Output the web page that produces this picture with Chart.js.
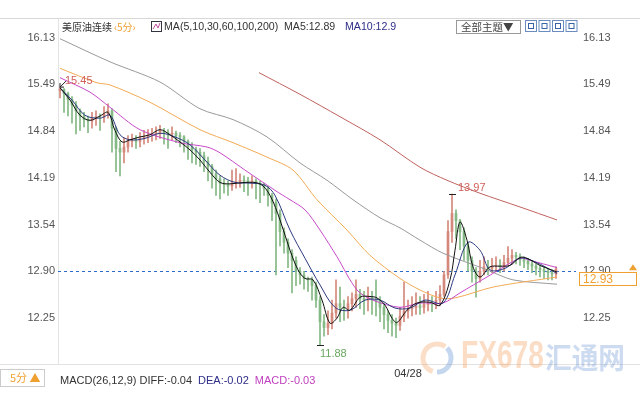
<!DOCTYPE html>
<html>
<head>
<meta charset="utf-8">
<script src="https://cdn.jsdelivr.net/npm/chart.js@4.4.0/dist/chart.umd.min.js"></script>
<style>
html, body { margin: 0; padding: 0; background: #fff; }
#wrap { position: relative; width: 640px; height: 400px; }
</style>
</head>
<body>
<div id="wrap"><canvas id="chart_k"></canvas></div>
<script>
//Price axis tick labels (both sides)
const yTickLabels = ['16.13', '15.49', '14.84', '14.19', '13.54', '12.90', '12.25'];

//5 minute candles, oldest first
const opens = [15.40, 15.42, 15.36, 15.28, 15.20, 15.12, 15.05, 15.00, 14.98, 15.02,
    15.04, 15.03, 15.08, 15.12, 14.88, 14.60, 14.55, 14.62, 14.70, 14.72,
    14.70, 14.74, 14.76, 14.78, 14.80, 14.82, 14.84, 14.82, 14.80, 14.81,
    14.78, 14.76, 14.70, 14.62, 14.58, 14.55, 14.50, 14.42, 14.35, 14.25,
    14.18, 14.12, 14.10, 14.08, 14.12, 14.14, 14.16, 14.15, 14.14, 14.15,
    14.12, 14.10, 14.05, 13.95, 13.85, 13.70, 13.45, 13.30, 13.15, 13.05,
    12.90, 12.85, 12.80, 12.78, 12.70, 12.50, 12.20, 12.12, 12.18, 12.32,
    12.45, 12.40, 12.38, 12.45, 12.52, 12.58, 12.52, 12.50, 12.55, 12.50,
    12.48, 12.40, 12.30, 12.22, 12.18, 12.15, 12.28, 12.35, 12.38, 12.40,
    12.42, 12.40, 12.44, 12.45, 12.44, 12.50, 12.58, 12.85, 13.45, 13.70,
    13.60, 13.45, 13.25, 13.05, 12.90, 12.80, 12.90, 12.96, 12.94, 12.97,
    12.98, 12.96, 13.02, 13.08, 13.12, 13.10, 13.06, 13.04, 13.00, 12.97,
    12.94, 12.92, 12.90, 12.88, 12.86];
const closes = [15.42, 15.36, 15.28, 15.20, 15.12, 15.05, 15.00, 14.98, 15.02, 15.04,
    15.03, 15.08, 15.12, 14.88, 14.60, 14.55, 14.62, 14.70, 14.72, 14.70,
    14.74, 14.76, 14.78, 14.80, 14.82, 14.84, 14.82, 14.80, 14.81, 14.78,
    14.76, 14.70, 14.62, 14.58, 14.55, 14.50, 14.42, 14.35, 14.25, 14.18,
    14.12, 14.10, 14.08, 14.12, 14.14, 14.16, 14.15, 14.14, 14.15, 14.12,
    14.10, 14.05, 13.95, 13.85, 13.70, 13.45, 13.30, 13.15, 13.05, 12.90,
    12.85, 12.80, 12.78, 12.70, 12.50, 12.20, 12.12, 12.18, 12.32, 12.45,
    12.40, 12.38, 12.45, 12.52, 12.58, 12.52, 12.50, 12.55, 12.50, 12.48,
    12.40, 12.30, 12.22, 12.18, 12.15, 12.28, 12.35, 12.38, 12.40, 12.42,
    12.40, 12.44, 12.45, 12.44, 12.50, 12.58, 12.85, 13.45, 13.70, 13.60,
    13.45, 13.25, 13.05, 12.90, 12.80, 12.90, 12.96, 12.94, 12.97, 12.98,
    12.96, 13.02, 13.08, 13.12, 13.10, 13.06, 13.04, 13.00, 12.97, 12.94,
    12.92, 12.90, 12.88, 12.86, 12.93];
const highs = [15.45, 15.43, 15.38, 15.32, 15.25, 15.15, 15.10, 15.05, 15.10, 15.12,
    15.08, 15.18, 15.22, 15.15, 14.90, 14.70, 14.75, 14.78, 14.80, 14.78,
    14.82, 14.85, 14.86, 14.88, 14.90, 14.92, 14.88, 14.86, 14.90, 14.84,
    14.82, 14.78, 14.72, 14.68, 14.62, 14.60, 14.55, 14.48, 14.38, 14.30,
    14.22, 14.18, 14.15, 14.30, 14.32, 14.25, 14.22, 14.20, 14.22, 14.18,
    14.15, 14.12, 14.08, 13.98, 13.90, 13.75, 13.50, 13.35, 13.20, 13.10,
    12.95, 12.90, 12.82, 12.82, 12.75, 12.55, 12.30, 12.35, 12.50, 12.78,
    12.68, 12.50, 12.55, 12.60, 12.78, 12.65, 12.62, 12.68, 12.62, 12.78,
    12.55, 12.45, 12.35, 12.30, 12.25, 12.40, 12.75, 12.50, 12.55, 12.60,
    12.55, 12.58, 12.62, 12.55, 12.62, 12.70, 12.90, 13.60, 13.97, 13.75,
    13.62, 13.50, 13.30, 13.10, 12.95, 13.05, 13.10, 13.05, 13.08, 13.10,
    13.06, 13.12, 13.24, 13.20, 13.16, 13.14, 13.10, 13.08, 13.04, 13.00,
    12.98, 12.96, 12.94, 12.92, 12.96];
const lows = [15.30, 15.10, 15.05, 14.95, 14.80, 14.85, 14.90, 14.82, 14.88, 14.92,
    14.85, 14.96, 15.02, 14.55, 14.28, 14.22, 14.40, 14.55, 14.62, 14.60,
    14.62, 14.66, 14.68, 14.70, 14.72, 14.74, 14.66, 14.60, 14.72, 14.68,
    14.62, 14.55, 14.45, 14.40, 14.38, 14.35, 14.28, 14.15, 14.05, 13.95,
    13.90, 13.98, 13.95, 14.02, 14.05, 14.06, 14.00, 13.95, 14.05, 13.90,
    13.85, 13.95, 13.80, 13.60, 12.85, 13.25, 13.15, 12.95, 12.60, 12.70,
    12.72, 12.65, 12.62, 12.50, 12.40, 11.88, 12.00, 12.02, 12.10, 12.25,
    12.20, 12.22, 12.25, 12.35, 12.40, 12.38, 12.30, 12.35, 12.30, 12.28,
    12.20, 12.10, 12.05, 12.00, 11.98, 12.08, 12.20, 12.25, 12.28, 12.30,
    12.30, 12.32, 12.35, 12.34, 12.38, 12.42, 12.55, 12.80, 13.30, 13.35,
    13.20, 13.05, 12.90, 12.75, 12.54, 12.75, 12.85, 12.85, 12.88, 12.90,
    12.88, 12.90, 12.98, 13.00, 13.00, 12.98, 12.95, 12.92, 12.88, 12.85,
    12.82, 12.80, 12.78, 12.78, 12.80];

//Moving averages as [candle index, value]
const ma5 = [[0, 15.44], [2.5, 15.27], [5, 15.06], [7.5, 14.99], [10, 15.05], [12, 15.10],
    [13.75, 14.85], [15.5, 14.69], [17.5, 14.72], [20, 14.76], [22.5, 14.79], [25, 14.86],
    [27.5, 14.79], [30, 14.69], [32.5, 14.58], [35, 14.44], [37.5, 14.27], [40, 14.13],
    [42.5, 14.11], [46.25, 14.13], [50, 14.11], [52.5, 13.95], [55, 13.61], [57.5, 13.19],
    [59.5, 12.92], [61.25, 12.80], [63.25, 12.78], [65.5, 12.50], [67.5, 12.18], [69.25, 12.25],
    [70.75, 12.40], [72.5, 12.36], [75, 12.54], [77.5, 12.55], [79.25, 12.53], [81.25, 12.43],
    [83, 12.25], [84.25, 12.19], [86.75, 12.36], [89.25, 12.46], [92.5, 12.47], [95, 12.43],
    [97.5, 12.78], [98.75, 13.19], [100, 13.58], [101.75, 13.33], [103.25, 12.96], [105, 12.82],
    [107.5, 12.96], [110, 12.97], [112.5, 12.98], [115, 13.09], [116.75, 13.08], [120, 12.98],
    [124.25, 12.89]];
const ma10 = [[0, 15.44], [3, 15.27], [6.25, 15.06], [10, 15.02], [12.5, 15.06], [15, 14.79],
    [17.5, 14.72], [21.25, 14.74], [25, 14.81], [28.75, 14.76], [32.5, 14.65], [36.25, 14.44],
    [40, 14.23], [43.75, 14.13], [47.5, 14.12], [51.25, 14.09], [53.75, 13.95], [57.5, 13.47],
    [61.25, 13.08], [65, 12.71], [68.75, 12.40], [72.5, 12.36], [76.25, 12.50], [80, 12.50],
    [83.75, 12.39], [87.5, 12.39], [91.25, 12.50], [95.75, 12.46], [98.75, 12.85], [102, 13.30],
    [105, 13.19], [107.5, 12.92], [111.25, 12.94], [115, 13.08], [118.75, 13.03], [124.25, 12.87]];
const ma30 = [[0, 15.58], [7.5, 15.38], [12.5, 15.17], [20, 14.86], [30, 14.68], [36.75, 14.62],
    [40, 14.54], [46.25, 14.30], [53.75, 14.02], [57.5, 13.89], [61.25, 13.75], [65, 13.47],
    [69.25, 13.10], [74.25, 12.64], [78.25, 12.50], [85, 12.40], [90, 12.46], [95.75, 12.46],
    [100, 12.60], [106.75, 12.82], [115, 13.08], [117.5, 13.05], [124.25, 12.95]];
const ma60 = [[0, 15.71], [9.25, 15.51], [12.5, 15.48], [22.5, 15.24], [35, 14.86], [43.25, 14.68],
    [51.75, 14.48], [58.25, 14.30], [64.25, 13.89], [71.75, 13.47], [77.5, 13.12], [85, 12.80],
    [90, 12.64], [95, 12.53], [98.75, 12.53], [108.25, 12.68], [124.25, 12.82]];
const ma100 = [[0, 16.12], [12.5, 15.80], [25, 15.52], [35, 15.15], [43.25, 15.00], [51.75, 14.76],
    [60, 14.40], [66.75, 14.16], [73.25, 13.89], [80, 13.64], [85, 13.50], [90, 13.33],
    [95.75, 13.15], [106.75, 12.92], [113.25, 12.78], [124.25, 12.72]];
const ma200 = [[49.75, 15.65], [60, 15.35], [70, 15.04], [80, 14.72], [90, 14.34], [96.75, 14.16],
    [105, 13.98], [115, 13.79], [124.25, 13.61]];

//Extremes marked on the chart, current price, date tick
const highMark = { index: 0, value: 15.45 };
const peakMark = { index: 98, value: 13.97 };
const lowMark = { index: 65, value: 11.88 };
const lastPrice = '12.93';
const priceLineValue = 12.90;
const dateTicks = [{ index: 87, label: '04/28' }];

const upColor = '#d4887c';
const downColor = '#84b884';
const candleColors = closes.map((c, i) => (c >= opens[i] ? upColor : downColor));

const toXY = (pairs) => pairs.map(p => ({ x: p[0], y: p[1] }));
const maLine = (label, pairs, color, tension) => ({
    type: 'line',
    label: label,
    data: toXY(pairs),
    borderColor: color,
    borderWidth: 1,
    pointRadius: 0,
    tension: tension,
    order: 1
});

const LAT_FONT = '"Liberation Sans", "Noto Sans CJK SC", sans-serif';
const CN_FONT = '"Noto Sans CJK SC", "Liberation Sans", sans-serif';

//Draws the terminal decorations around the plot
const decorPlugin = {
    id: 'decor',
    beforeDraw(chart) {
        const ctx = chart.ctx;
        ctx.save();
        ctx.fillStyle = '#fff';
        ctx.fillRect(0, 0, chart.width, chart.height);
        ctx.restore();
    },
    beforeDatasetsDraw(chart) {
        const ctx = chart.ctx;
        const area = chart.chartArea;
        const yPx = chart.scales.y.getPixelForValue(priceLineValue);
        ctx.save();
        ctx.strokeStyle = '#2a6ad0';
        ctx.lineWidth = 1;
        ctx.setLineDash([3, 3]);
        ctx.beginPath();
        ctx.moveTo(area.left, Math.round(yPx) + 0.5);
        ctx.lineTo(area.right + 4, Math.round(yPx) + 0.5);
        ctx.stroke();
        ctx.restore();
    },
    afterDatasetsDraw(chart) {
        const ctx = chart.ctx;
        const xs = chart.scales.x;
        const ys = chart.scales.y;
        ctx.save();
        ctx.font = '11px ' + LAT_FONT;
        ctx.textBaseline = 'middle';
        //high at start
        let px = xs.getPixelForValue(highMark.index);
        let py = ys.getPixelForValue(highMark.value);
        ctx.strokeStyle = '#222';
        ctx.lineWidth = 1;
        ctx.beginPath();
        ctx.moveTo(px + 6, py - 6);
        ctx.lineTo(px, py);
        ctx.moveTo(px, py);
        ctx.lineTo(px + 4, py);
        ctx.moveTo(px, py);
        ctx.lineTo(px, py - 4);
        ctx.stroke();
        ctx.fillStyle = '#d0605a';
        ctx.fillText(highMark.value.toFixed(2), px + 5, py - 6);
        //spike top
        px = xs.getPixelForValue(peakMark.index);
        py = ys.getPixelForValue(peakMark.value);
        ctx.beginPath();
        ctx.moveTo(px - 3, Math.round(py) + 0.5);
        ctx.lineTo(px + 4, Math.round(py) + 0.5);
        ctx.stroke();
        ctx.fillStyle = '#d0605a';
        ctx.fillText(peakMark.value.toFixed(2), px + 6, py - 6);
        //low
        px = xs.getPixelForValue(lowMark.index);
        py = ys.getPixelForValue(lowMark.value);
        ctx.beginPath();
        ctx.moveTo(px - 3, Math.round(py) + 0.5);
        ctx.lineTo(px + 4, Math.round(py) + 0.5);
        ctx.stroke();
        ctx.fillStyle = '#6aa860';
        ctx.fillText(lowMark.value.toFixed(2), px, py + 9);
        ctx.restore();
    },
    afterDraw(chart) {
        const ctx = chart.ctx;
        const area = chart.chartArea;
        ctx.save();
        //header
        ctx.strokeStyle = '#d8d8d8';
        ctx.beginPath();
        ctx.moveTo(0, 18.5);
        ctx.lineTo(640, 18.5);
        ctx.stroke();
        ctx.textBaseline = 'middle';
        ctx.font = '10px ' + CN_FONT;
        ctx.fillStyle = '#333';
        ctx.fillText('美原油连续', 62, 27);
        ctx.fillStyle = '#f0a030';
        ctx.fillText('‹5分›', 114, 27);
        //MA icon
        ctx.strokeStyle = '#334';
        ctx.strokeRect(151.5, 21.5, 10, 10);
        ctx.strokeStyle = '#c050a0';
        ctx.beginPath();
        ctx.moveTo(153, 29); ctx.lineTo(156, 24); ctx.lineTo(158, 28); ctx.lineTo(160, 23);
        ctx.stroke();
        ctx.font = '10.6px ' + LAT_FONT;
        ctx.fillStyle = '#333';
        ctx.fillText('MA(5,10,30,60,100,200)', 164, 27);
        ctx.fillText('MA5:12.89', 284, 27);
        ctx.fillStyle = '#2d2d88';
        ctx.fillText('MA10:12.9', 345, 27);
        //theme selector and buttons
        ctx.strokeStyle = '#999';
        ctx.strokeRect(456.5, 20.5, 64, 13);
        ctx.fillStyle = '#444';
        ctx.font = '10.5px ' + CN_FONT;
        ctx.fillText('全部主题▼', 461, 27);
        for (let k = 0; k < 4; k++) {
            const bx = 525 + k * 13.5;
            ctx.strokeStyle = '#6b8cc0';
            ctx.strokeRect(bx + 0.5, 20.5, 11, 11);
            ctx.fillStyle = '#3a62a8';
            ctx.fillRect(bx + 3, 23, 6, 6);
            ctx.fillStyle = '#fff';
            ctx.fillRect(bx + 4, 24, 4, 4);
        }
        //plot bottom separator
        ctx.strokeStyle = '#e2e2e2';
        ctx.beginPath();
        ctx.moveTo(0, Math.round(area.bottom) + 0.5);
        ctx.lineTo(640, Math.round(area.bottom) + 0.5);
        ctx.stroke();
        //watermark
        ctx.globalAlpha = 0.35;
        ctx.lineWidth = 5;
        ctx.strokeStyle = '#f0a060';
        ctx.beginPath();
        ctx.arc(437, 358, 14, Math.PI * 0.6, Math.PI * 1.7);
        ctx.stroke();
        ctx.strokeStyle = '#5a8ad0';
        ctx.beginPath();
        ctx.arc(437, 358, 14, Math.PI * 1.75, Math.PI * 2.5);
        ctx.stroke();
        ctx.save();
        ctx.translate(461, 358);
        ctx.scale(0.74, 1);
        ctx.font = 'bold 38px "Liberation Sans", sans-serif';
        ctx.fillStyle = '#f39a55';
        ctx.fillText('FX678', 0, 0);
        ctx.restore();
        ctx.save();
        ctx.translate(545, 358);
        ctx.scale(0.92, 1);
        ctx.font = 'bold 29px "Noto Sans CJK SC", sans-serif';
        ctx.fillStyle = '#6f98d8';
        ctx.fillText('汇通网', 0, 0);
        ctx.restore();
        ctx.globalAlpha = 1;
        ctx.lineWidth = 1;
        //date tick
        ctx.fillStyle = '#333';
        ctx.font = '11px ' + LAT_FONT;
        ctx.textAlign = 'center';
        dateTicks.forEach(d => {
            ctx.fillText(d.label, chart.scales.x.getPixelForValue(d.index), area.bottom + 10);
        });
        ctx.textAlign = 'left';
        //current price box
        const boxY = chart.scales.y.getPixelForValue(priceLineValue);
        ctx.fillStyle = '#fff';
        ctx.fillRect(579.5, boxY + 1, 58, 13);
        ctx.strokeStyle = '#f0a030';
        ctx.strokeRect(579.5, Math.round(boxY) + 1.5, 57, 13);
        ctx.fillStyle = '#f0a030';
        ctx.font = '12px ' + LAT_FONT;
        ctx.fillText(lastPrice, 583, boxY + 8);
        ctx.beginPath();
        ctx.moveTo(633, boxY - 7); ctx.lineTo(637, boxY - 1); ctx.lineTo(629, boxY - 1);
        ctx.closePath();
        ctx.fill();
        //period box + MACD caption
        ctx.strokeStyle = '#ccc';
        ctx.strokeRect(0.5, area.bottom + 5.5, 44, 17);
        ctx.fillStyle = '#f0a030';
        ctx.font = '11px ' + CN_FONT;
        ctx.fillText('5分 ▲', 10, area.bottom + 14);
        ctx.font = '11px ' + LAT_FONT;
        let mx = 60;
        [['MACD(26,12,9) DIFF:-0.04', '#333'], ['DEA:-0.02', '#2d2d88'], ['MACD:-0.03', '#c040c0']].forEach(p => {
            ctx.fillStyle = p[1];
            ctx.fillText(p[0], mx, area.bottom + 17);
            mx += ctx.measureText(p[0]).width + 6;
        });
        ctx.restore();
    }
};

const datasets = [
    maLine('MA5', ma5, '#111', 0.35),
    maLine('MA10', ma10, '#2e3a80', 0.35),
    maLine('MA30', ma30, '#c84ac8', 0.3),
    maLine('MA60', ma60, '#f2ab55', 0.3),
    maLine('MA100', ma100, '#9a9a9a', 0.3),
    maLine('MA200', ma200, '#c0625e', 0.3),
    {
        type: 'bar',
        label: 'wick',
        data: lows.map((l, i) => ({ x: i, y: [l, highs[i]] })),
        backgroundColor: candleColors,
        barThickness: 1,
        grouped: false,
        order: 3
    },
    {
        type: 'bar',
        label: 'body',
        data: opens.map((o, i) => ({ x: i, y: [o, closes[i] === o ? o + 0.01 : closes[i]] })),
        backgroundColor: candleColors,
        barThickness: 2,
        grouped: false,
        order: 2
    }
];

const yTicksSetup = (scale) => {
    scale.ticks = yTickLabels.map(t => ({ value: parseFloat(t) }));
};

const chart_canvas = document.getElementById('chart_k');
chart_canvas.width = 640;
chart_canvas.height = 400;

new Chart(chart_canvas, {
    data: { datasets: datasets },
    options: {
        responsive: false,
        animation: false,
        devicePixelRatio: 1,
        layout: { padding: { top: 18, bottom: 36, left: 0, right: 0 } },
        plugins: { legend: { display: false }, tooltip: { enabled: false } },
        scales: {
            x: {
                type: 'linear',
                min: -0.5,
                max: 128,
                offset: false,
                display: false
            },
            y: {
                position: 'left',
                min: 11.615,
                max: 16.407,
                afterBuildTicks: yTicksSetup,
                afterFit: (scale) => { scale.width = 58; },
                ticks: {
                    callback: (v, idx) => yTickLabels[idx],
                    color: '#555',
                    padding: 3,
                    font: { size: 11, family: LAT_FONT }
                },
                grid: { display: false, drawTicks: false },
                border: { display: true, color: '#e4e4e4' }
            },
            y2: {
                position: 'right',
                min: 11.615,
                max: 16.407,
                afterBuildTicks: yTicksSetup,
                afterFit: (scale) => { scale.width = 68; },
                ticks: {
                    callback: (v, idx) => yTickLabels[idx],
                    color: '#555',
                    padding: 11,
                    font: { size: 11, family: LAT_FONT }
                },
                grid: { display: false, drawTicks: false },
                border: { display: false }
            }
        }
    },
    plugins: [decorPlugin]
});
</script>
</body>
</html>
